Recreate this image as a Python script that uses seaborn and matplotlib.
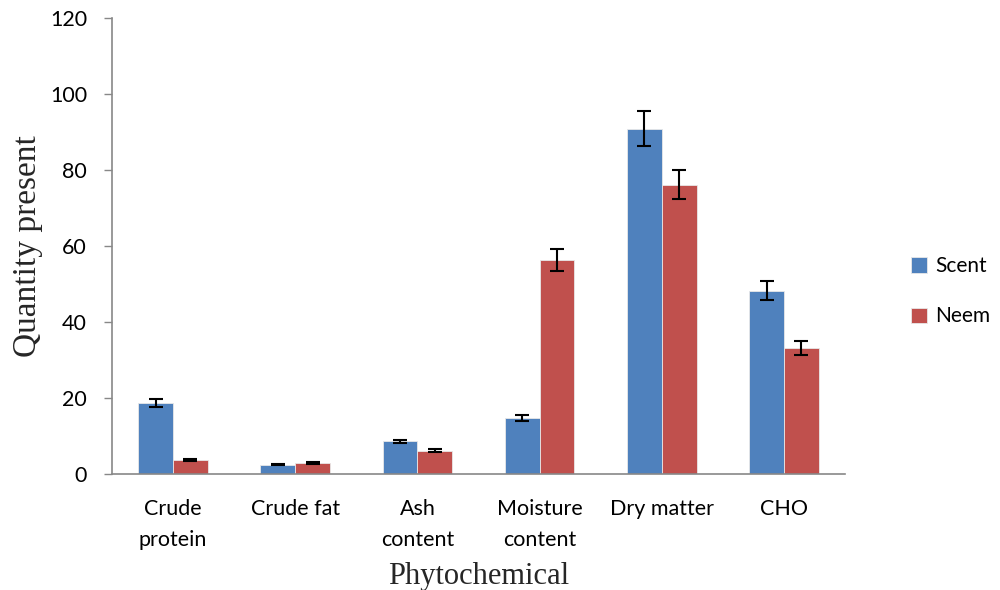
import matplotlib
matplotlib.use("Agg")
import matplotlib.pyplot as plt
import seaborn as sns
import pandas as pd
import numpy as np

categories = ["Crude\nprotein", "Crude fat", "Ash\ncontent", "Moisture\ncontent", "Dry matter", "CHO"]
scent = [18.6, 2.4, 8.5, 14.7, 90.8, 48.1]
neem = [3.7, 2.8, 6.0, 56.2, 76.1, 33.1]
scent_err = [1.0, 0.2, 0.5, 0.8, 4.6, 2.5]
neem_err = [0.3, 0.2, 0.4, 2.9, 3.9, 1.8]
yticks = [0, 20, 40, 60, 80, 100, 120]

df = pd.DataFrame({
    "cat": categories * 2,
    "val": scent + neem,
    "err": scent_err + neem_err,
    "grp": ["Scent"] * 6 + ["Neem"] * 6,
})

sns.set_style("white")
plt.rcParams["font.family"] = ["Lato", "DejaVu Sans"]
plt.rcParams["text.color"] = "black"
plt.rcParams["xtick.color"] = "black"
plt.rcParams["ytick.color"] = "black"

fig = plt.figure(figsize=(10, 5.9), dpi=100)
ax = fig.add_axes([0.112, 0.197, 0.733, 0.773])

sns.barplot(data=df, x="cat", y="val", hue="grp", order=categories,
            hue_order=["Scent", "Neem"], palette=["#4F81BD", "#C0504D"],
            width=0.57, gap=0, errorbar=None, edgecolor="#e8e8e8",
            linewidth=0.6, saturation=1, ax=ax)

# error bars on bar centres
bars = [p for p in ax.patches if p.get_height() > 0][:12]
xs = [p.get_x() + p.get_width() / 2 for p in bars]
hs = [p.get_height() for p in bars]
ax.errorbar(xs, hs, yerr=df["err"], fmt="none", ecolor="black",
            elinewidth=1.5, capsize=5, capthick=1.5, zorder=5)

ax.set_ylim(0, 120)
ax.set_xlim(-0.5, 5.5)
ax.set_yticks(yticks)
ax.set_yticklabels([str(v) for v in yticks], fontsize=15.5)
ax.set_xticks(range(6))
ax.set_xticklabels(categories, fontsize=15.5, linespacing=1.7)
ax.set_xticks(np.arange(-0.5, 6, 1), minor=True)
ax.tick_params(axis="x", which="major", length=0, pad=18)
ax.tick_params(axis="x", which="minor", length=8, color="#888888", width=1)
ax.tick_params(axis="y", length=6, color="#888888", width=1, direction="out",
               left=True, pad=12)

for s in ["top", "right"]:
    ax.spines[s].set_visible(False)
for s in ["left", "bottom"]:
    ax.spines[s].set_color("#888888")
    ax.spines[s].set_linewidth(1.2)

ax.set_xlabel("Phytochemical", fontsize=22, family="Liberation Serif", labelpad=9)
ax.set_ylabel("Quantity present", fontsize=24, family="Liberation Serif", labelpad=5)

leg = ax.legend(loc="center left", bbox_to_anchor=(1.065, 0.4), frameon=False,
                fontsize=15, handlelength=0.75, handleheight=0.75,
                labelspacing=1.45, handletextpad=0.4)

fig.savefig("out.png", dpi=100)
